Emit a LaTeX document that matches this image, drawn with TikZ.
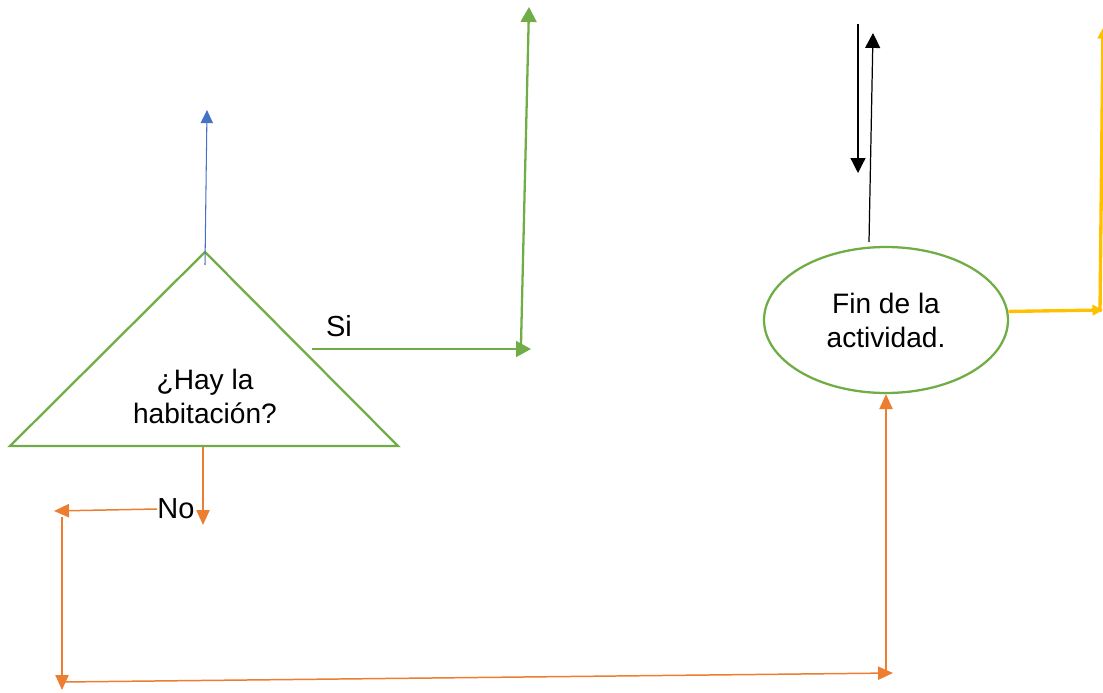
\documentclass[tikz,border=0pt]{standalone}
\usepackage{fontspec}
\setmainfont{Liberation Sans}
\usetikzlibrary{
  arrows.meta,
  shapes.geometric
}
\definecolor{flowgreen}{HTML}{70AD47}
\definecolor{flowblue}{HTML}{4472C4}
\definecolor{floworange}{HTML}{ED7D31}
\definecolor{flowyellow}{HTML}{FFC000}
\tikzset{
  decision/.style={
    draw=flowgreen, line width=1.3pt, line join=miter
  },
  terminal/.style={
    ellipse, draw=flowgreen, line width=1.3pt,
    minimum width=4.88cm, minimum height=2.92cm,
    align=center, font=\fontsize{16}{19.3}\selectfont
  },
  flowtext/.style={
    align=center, inner sep=0pt, font=\fontsize{16}{19.3}\selectfont
  },
  tag/.style={
    inner sep=0pt, font=\fontsize{16.5}{19.5}\selectfont
  },
  greenarrow/.style={-{Triangle[length=8.5pt, width=9pt]}, draw=flowgreen, line width=1.3pt},
  bluearrow/.style={-{Triangle[length=7.5pt, width=7pt]}, draw=flowblue, line width=0.6pt},
  orangearrow/.style={-{Triangle[length=8.5pt, width=7.5pt]}, draw=floworange, line width=0.85pt},
  blackarrow/.style={-{Triangle[length=8.5pt, width=8.5pt]}, draw=black, line width=0.7pt},
  yellowarrow/.style={-{Triangle[length=6pt, width=6pt]}, draw=flowyellow, line width=1.9pt}
}

\begin{document}
\begin{tikzpicture}[x=0.02cm, y=-0.02cm]

\useasboundingbox (0,0) rectangle (1103,693);

% Decision triangle
\coordinate (apex) at (205,252);
\coordinate (baseL) at (10,446);
\coordinate (baseR) at (398,446);
\draw[decision] (apex) -- (baseL) -- (baseR) -- cycle;
\node[flowtext] (pregunta) at (205,396) {¿Hay la\\habitación?};

% End of activity
\node[terminal] (fin) at (886,320) {Fin de la\\actividad.};

% Labels
\node[tag] (si) at (339,326) {Si};
\node[tag] (no) at (176,509) {No};

% Free ends of the connectors
\coordinate (blueS) at (205,265);
\coordinate (blueE) at (207,110);
\coordinate (siS) at (312,349);
\coordinate (siE) at (531,349);
\coordinate (upS) at (521,344);
\coordinate (upE) at (529,7);
\coordinate (dnS) at (858,24);
\coordinate (dnE) at (858,173);
\coordinate (finUpS) at (869,242);
\coordinate (finUpE) at (873,33);
\coordinate (yelE) at (1103,310);
\coordinate (yelS) at (1100,312);
\coordinate (yelTop) at (1103,28);
\coordinate (noS) at (203,447);
\coordinate (noE) at (203,525);
\coordinate (leftE) at (54,511);
\coordinate (lowS) at (62,517);
\coordinate (lowE) at (62,690);
\coordinate (botS) at (62,682);
\coordinate (botE) at (893,673);
\coordinate (finS) at (886,672);

% Yes branch
\draw[bluearrow] (blueS) -- (blueE);
\draw[greenarrow] (siS) -- (siE);
\draw[greenarrow] (upS) -- (upE);

% Around the end node
\draw[blackarrow] (dnS) -- (dnE);
\draw[blackarrow] (finUpS) -- (finUpE);
\draw[yellowarrow] (fin.4) -- (yelE);
\draw[yellowarrow] (yelS) -- (yelTop);

% No branch
\draw[orangearrow] (noS) -- (noE);
\draw[orangearrow] (no.west) -- (leftE);
\draw[orangearrow] (lowS) -- (lowE);
\draw[orangearrow] (botS) -- (botE);
\draw[orangearrow] (finS) -- (fin.south);

\end{tikzpicture}
\end{document}
